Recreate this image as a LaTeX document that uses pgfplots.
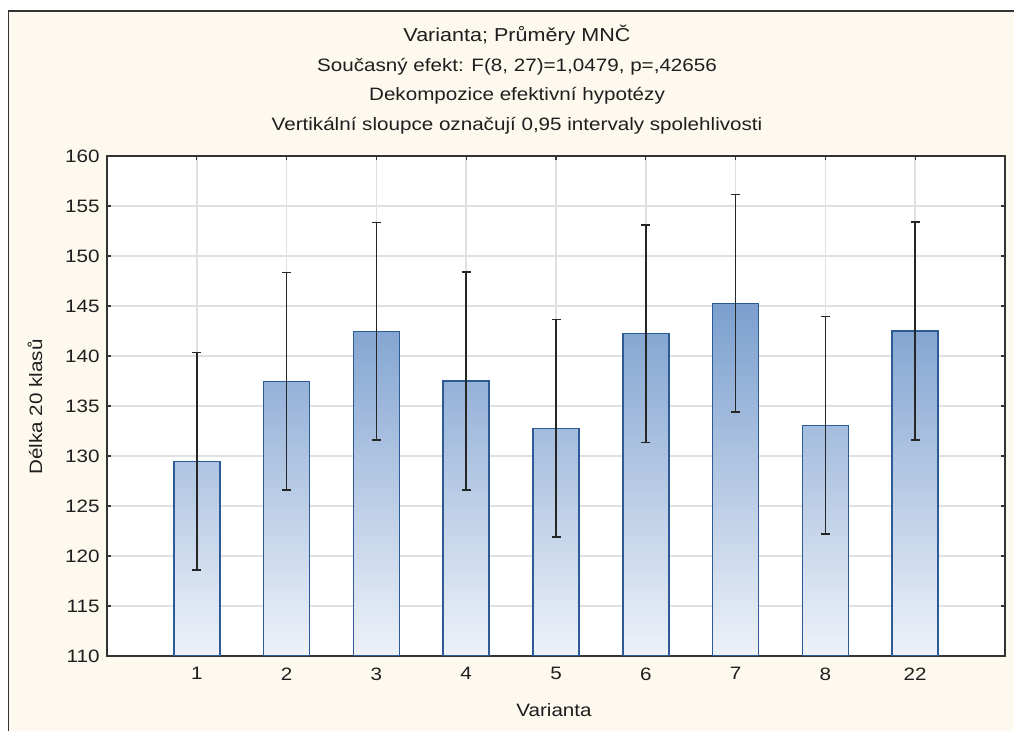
\documentclass[border=0pt]{standalone}
\usepackage{fontspec}
\setmainfont{Liberation Sans}[FakeStretch=1.15]
\usepackage{pgfplots}
\usepackage{pgfplotstable}
\usetikzlibrary{backgrounds}
\pgfplotsset{compat=1.18}

\definecolor{bg}{HTML}{FEF9EF}
\definecolor{barDark}{HTML}{4C7DBD}
\definecolor{barLight}{HTML}{EEF2F9}
\definecolor{barEdge}{HTML}{2C5B98}
\definecolor{gridc}{HTML}{E0E0E0}
\definecolor{txt}{HTML}{1E1E1E}

\pgfplotstableread{
x y e
0 129.47 10.88
1 137.47 10.88
2 142.47 10.88
3 137.50 10.88
4 132.77 10.88
5 142.23 10.88
6 145.27 10.88
7 133.07 10.88
8 142.50 10.88
}\datatable

\pgfplotsset{mybar/.style={ybar, bar shift=0pt, bar width=46bp, draw=barEdge, line width=1.5bp, bottom color=barLight,
  x filter/.expression={abs(x-#1)<0.1 ? x : nan}}}

\begin{document}
\begin{tikzpicture}
\begin{axis}[
  at={(0,0)}, anchor=south west,
  scale only axis, width=898bp, height=500bp,
  xmin=-1, xmax=9, ymin=110, ymax=160,
  y coord trafo/.code={\pgfmathparse{#1-110}},
  y coord inv trafo/.code={\pgfmathparse{#1+110}},
  xtick={0,...,8}, xticklabels={1,2,3,4,5,6,7,8,22},
  ytick={110,115,...,160},
  yticklabels={110,115,120,125,130,135,140,145,150,155,160},
  grid=major, major grid style={gridc, line width=1.6bp},
  axis line style={line width=1.6bp, black!80},
  tick style={black!80, line width=1.2bp},
  major tick length=4bp,
  tick align=inside, xtick pos=both, ytick pos=both,
  font=\fontsize{18}{20}\selectfont,
  ticklabel style={text=txt},
  /pgf/number format/assume math mode=true,
  xticklabel style={yshift=-8bp},
  yticklabel style={xshift=-4bp},
  axis background/.style={fill=white},
]
\addplot[mybar=0, top color=barDark!39!barLight] table[x=x, y=y] {\datatable};
\addplot[mybar=1, top color=barDark!55!barLight] table[x=x, y=y] {\datatable};
\addplot[mybar=2, top color=barDark!65!barLight] table[x=x, y=y] {\datatable};
\addplot[mybar=3, top color=barDark!55!barLight] table[x=x, y=y] {\datatable};
\addplot[mybar=4, top color=barDark!46!barLight] table[x=x, y=y] {\datatable};
\addplot[mybar=5, top color=barDark!64!barLight] table[x=x, y=y] {\datatable};
\addplot[mybar=6, top color=barDark!71!barLight] table[x=x, y=y] {\datatable};
\addplot[mybar=7, top color=barDark!46!barLight] table[x=x, y=y] {\datatable};
\addplot[mybar=8, top color=barDark!65!barLight] table[x=x, y=y] {\datatable};
\addplot[draw=none, mark=none,
  error bars/.cd, y dir=both, y explicit,
  error bar style={line width=1.6bp, black!85},
  error mark options={rotate=90, mark size=4.5bp, line width=1.6bp, black!85}]
  table[x=x, y=y, y error=e] {\datatable};
\coordinate (TL) at (rel axis cs:0,1);
\end{axis}

\pgfresetboundingbox
\begin{scope}[shift={(TL)}, x=1bp, y=1bp, shift={(-107,156)}]
\path[use as bounding box] (0,0) rectangle (1014,-731);
\begin{scope}[on background layer]
\fill[white] (0,0) rectangle (1014,-731);
\fill[bg] (8.5,-11) rectangle (1014,-731);
\end{scope}
\draw[black!80, line width=1.5bp] (8.5,-731) -- (8.5,-11) -- (1014,-11);
\begin{scope}[font=\fontsize{18}{20}\selectfont, text=txt]
\node[anchor=base] at (517,-42) {\fontsize{18.8}{20}\selectfont Varianta; Průměry MNČ};
\node[anchor=base] at (517,-71.5) {Současný efekt: F(8, 27)=1,0479, p=,42656};
\node[anchor=base] at (517,-101) {Dekompozice efektivní hypotézy};
\node[anchor=base] at (517,-130.5) {Vertikální sloupce označují 0,95 intervaly spolehlivosti};
\node[anchor=base] at (554,-717) {Varianta};
\node[rotate=90] at (35,-407) {Délka 20 klasů};
\end{scope}
\end{scope}
\end{tikzpicture}
\end{document}
